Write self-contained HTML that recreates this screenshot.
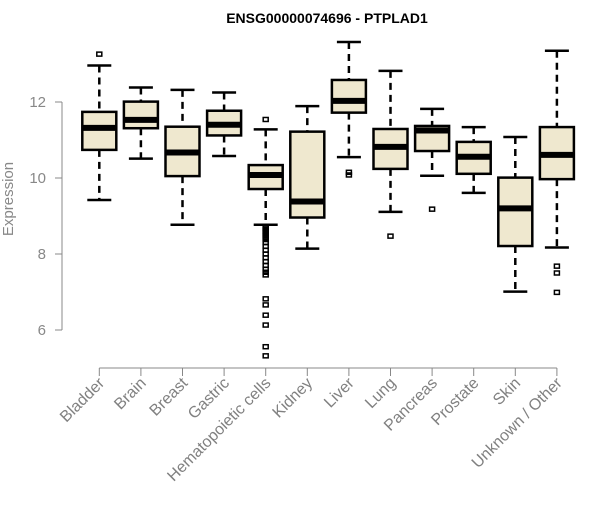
<!DOCTYPE html>
<html><head><meta charset="utf-8"><style>
body{margin:0;background:#fff}
svg text{font-family:"Liberation Sans",Arial,sans-serif}
</style></head><body>
<svg id="chart" width="600" height="500" xmlns="http://www.w3.org/2000/svg">
<text x="327" y="23" text-anchor="middle" font-weight="bold" font-size="14">ENSG00000074696 - PTPLAD1</text>
<text transform="translate(13,199) rotate(-90)" text-anchor="middle" font-size="15" fill="#888">Expression</text>
<g id="axes"></g><g id="boxes"></g>
</svg>
<script>
const categories=["Bladder","Brain","Breast","Gastric","Hematopoietic cells","Kidney","Liver","Lung","Pancreas","Prostate","Skin","Unknown / Other"];
const lowWhisker=[9.42,10.51,8.77,10.58,8.77,8.14,10.55,9.11,10.06,9.61,7.01,8.17];
const q1=[10.74,11.31,10.05,11.12,9.71,8.96,11.72,10.24,10.71,10.11,8.21,9.97];
const medians=[11.32,11.53,10.67,11.40,10.08,9.38,12.03,10.82,11.25,10.56,9.20,10.61];
const q3=[11.74,12.01,11.35,11.77,10.34,11.22,12.58,11.29,11.37,10.95,10.01,11.34];
const highWhisker=[12.96,12.38,12.32,12.25,11.28,11.89,13.58,12.82,11.82,11.34,11.08,13.35];
const outliers=[[13.26],[],[],[],[11.54,8.72,8.68,8.64,8.6,8.56,8.52,8.48,8.44,8.38,8.3,8.2,8.1,8.0,7.9,7.8,7.7,7.6,7.52,7.45,6.82,6.66,6.39,6.13,5.56,5.32],[],[10.08,10.15],[8.47],[9.18],[],[],[7.68,7.5,6.99]];
const yTicks=[6,8,10,12];
const NS="http://www.w3.org/2000/svg";
const y=v=>330-(v-6)*38;
const x=i=>99.3+i*41.6;
function mk(t,a,p){const e=document.createElementNS(NS,t);for(const k in a)e.setAttribute(k,a[k]);p.appendChild(e);return e;}
const ax=document.getElementById('axes'),bx=document.getElementById('boxes');
const yl=mk('line',{x1:62,x2:62,y1:y(12),y2:y(6),stroke:'#888'},ax);


yTicks.forEach(t=>{
 const l=mk('line',{x1:55,x2:62,y1:y(t),y2:y(t),stroke:'#888'},ax);
 
 
 const tx=mk('text',{x:46,y:y(t)+5,'text-anchor':'end','font-size':15,fill:'#888'},ax);tx.textContent=t;
 
 
});
const xl=mk('line',{x1:x(0),x2:x(categories.length-1),y1:368,y2:368,stroke:'#888'},ax);


categories.forEach((c,i)=>{
 const cx=x(i);
 const l=mk('line',{x1:cx,x2:cx,y1:368,y2:376,stroke:'#888'},ax);
 
 
 const tx=mk('text',{transform:`translate(${cx+6},${384}) rotate(-45)`,'text-anchor':'end','font-size':16,fill:'#808080'},ax);tx.textContent=c;
 
 
 const g=mk('g',{},bx);
 
 
 const w=17,cap=12;
 mk('line',{x1:cx,x2:cx,y1:y(highWhisker[i]),y2:y(q3[i]),stroke:'#000','stroke-width':2.5,'stroke-dasharray':'7,5'},g);
 mk('line',{x1:cx,x2:cx,y1:y(q1[i]),y2:y(lowWhisker[i]),stroke:'#000','stroke-width':2.5,'stroke-dasharray':'7,5'},g);
 mk('line',{x1:cx-cap,x2:cx+cap,y1:y(highWhisker[i]),y2:y(highWhisker[i]),stroke:'#000','stroke-width':2.5},g);
 mk('line',{x1:cx-cap,x2:cx+cap,y1:y(lowWhisker[i]),y2:y(lowWhisker[i]),stroke:'#000','stroke-width':2.5},g);
 mk('rect',{x:cx-w,y:y(q3[i]),width:2*w,height:y(q1[i])-y(q3[i]),fill:'#efe8cf',stroke:'#000','stroke-width':2.5},g);
 mk('line',{x1:cx-w,x2:cx+w,y1:y(medians[i]),y2:y(medians[i]),stroke:'#000','stroke-width':6},g);
 outliers[i].forEach(o=>{
  const r=mk('rect',{x:cx-2.5,y:y(o)-2,width:5,height:4,fill:'none',stroke:'#000','stroke-width':1.5},g);
  
  
 });
});
</script>
</body></html>
